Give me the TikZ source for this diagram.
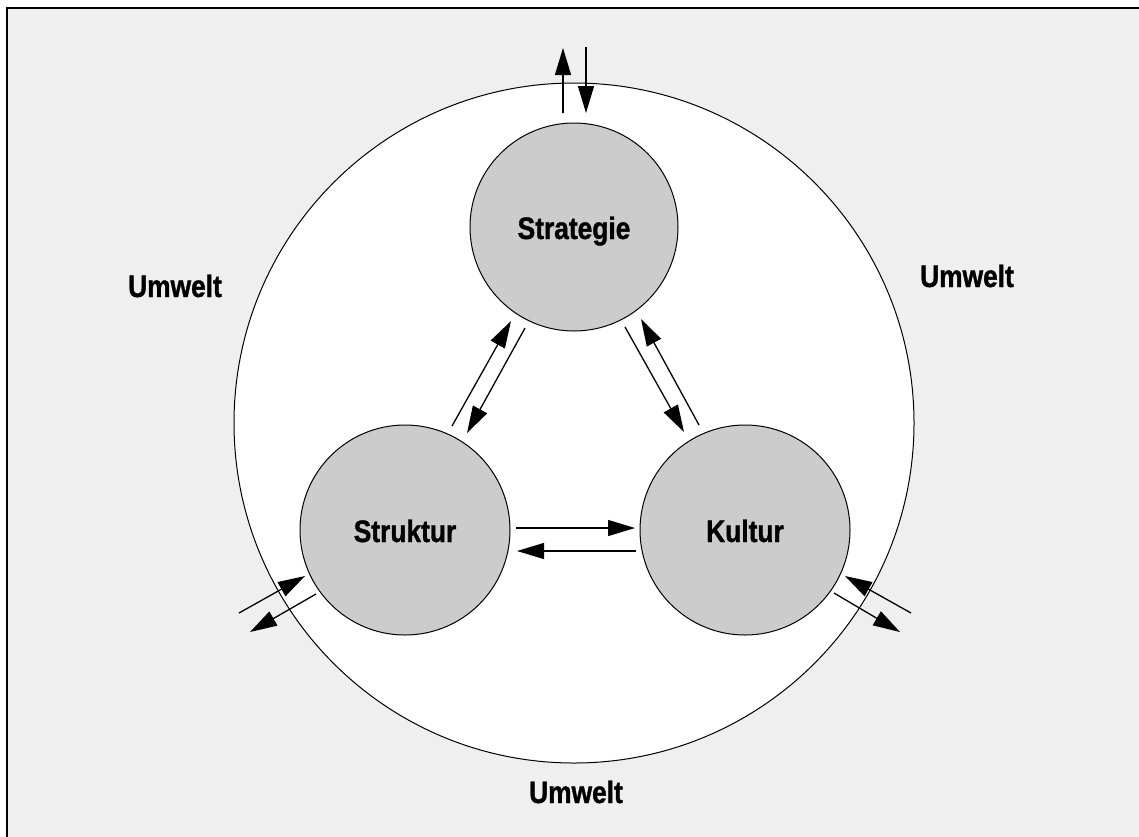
\documentclass[tikz,border=0pt]{standalone}
\usepackage{fontspec}
\setmainfont{Liberation Sans}[FakeStretch=0.85, BoldFeatures={FakeBold=1.2}]
\usetikzlibrary{arrows.meta}
\definecolor{paper}{HTML}{EFEFEF}
\definecolor{core}{HTML}{CCCCCC}
\begin{document}
\begin{tikzpicture}[x=1pt,y=-1pt,
  label/.style={font=\fontsize{31}{32}\selectfont\bfseries, inner sep=0pt, anchor=base},
  ring/.style={circle, draw=black, line width=1pt, inner sep=0pt},
  part/.style={ring, fill=core, minimum size=210pt},
  flow/.style={line width=1.3pt, -{Triangle[length=27pt,width=16pt]}}]
  % canvas and frame
  \useasboundingbox (0,0) rectangle (1139,836);
  \fill[white] (0,0) rectangle (1139,836);
  \begin{scope}
    \clip (0,0) rectangle (1139,836);
    \draw[line width=2pt, fill=paper] (7,8) rectangle (1150,850);
  \end{scope}
  % environment circle and the three parts
  \node[ring, fill=white, minimum size=680pt] (env) at (574,423) {};
  \node[part, minimum size=208pt] (strategie) at (574,227) {};
  \node[part] (struktur) at (405,530) {};
  \node[part] (kultur) at (745,530) {};
  % labels
  \node[label] (tstrat) at (574,239) {Strategie};
  \node[label] (tstruk) at (405,542) {Struktur};
  \node[label] (tkult) at (745,542) {Kultur};
  \node[label] (uwl) at (175,297) {Umwelt};
  \node[label] (uwr) at (967,287) {Umwelt};
  \node[label] (uwb) at (576,803) {Umwelt};
  % arrow end points
  \coordinate (a1s) at (563,113); \coordinate (a1e) at (563,48);
  \coordinate (a2s) at (586,47);  \coordinate (a2e) at (586,113);
  \coordinate (b1s) at (452,426); \coordinate (b1e) at (511,321);
  \coordinate (b2s) at (525,328); \coordinate (b2e) at (467,433);
  \coordinate (c1s) at (625,327); \coordinate (c1e) at (684,432);
  \coordinate (c2s) at (699,425); \coordinate (c2e) at (641,319);
  \coordinate (d1s) at (516,528); \coordinate (d1e) at (635,528);
  \coordinate (d2s) at (636,551); \coordinate (d2e) at (517,551);
  \coordinate (e1s) at (239,613); \coordinate (e1e) at (305,576);
  \coordinate (e2s) at (316,594); \coordinate (e2e) at (250,632);
  \coordinate (f1s) at (911,613); \coordinate (f1e) at (845,576);
  \coordinate (f2s) at (834,593); \coordinate (f2e) at (900,632);
  % exchanges
  \draw[flow] (a1s) -- (a1e);
  \draw[flow] (a2s) -- (a2e);
  \draw[flow] (b1s) -- (b1e);
  \draw[flow] (b2s) -- (b2e);
  \draw[flow] (c1s) -- (c1e);
  \draw[flow] (c2s) -- (c2e);
  \draw[flow] (d1s) -- (d1e);
  \draw[flow] (d2s) -- (d2e);
  \draw[flow] (e1s) -- (e1e);
  \draw[flow] (e2s) -- (e2e);
  \draw[flow] (f1s) -- (f1e);
  \draw[flow] (f2s) -- (f2e);
\end{tikzpicture}
\end{document}
